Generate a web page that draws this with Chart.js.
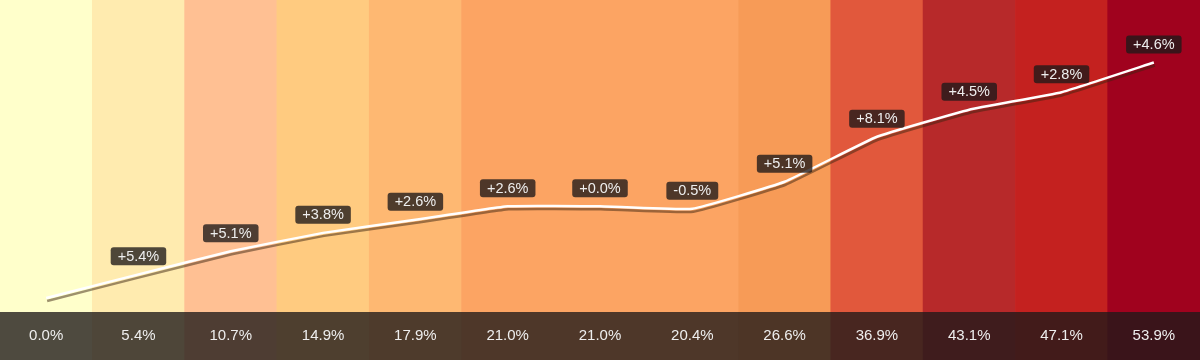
<!DOCTYPE html>
<html>
<head>
<meta charset="utf-8">
<script src="https://cdn.jsdelivr.net/npm/chart.js@4.4.1/dist/chart.umd.min.js"></script>
<style>
  html, body { margin: 0; padding: 0; background: #fff; }
  #wrap { width: 1200px; height: 360px; }
</style>
</head>
<body>
<div id="wrap"><canvas id="c" width="1200" height="360"></canvas></div>
<script>
// Data
const categories = ['P0','P1','P2','P3','P4','P5','P6','P7','P8','P9','P10','P11','P12'];
const cumulative = [0.0, 5.4, 10.7, 14.9, 17.9, 21.0, 21.0, 20.4, 26.6, 36.9, 43.1, 47.1, 53.9];
const changeLabels = [null, 5.4, 5.1, 3.8, 2.6, 2.6, 0.0, -0.5, 5.1, 8.1, 4.5, 2.8, 4.6];
const bandColors = ['#FFFFCB','#FFEBAF','#FFC093','#FFCB80','#FEB872','#FCA463','#FCA463','#FCA463',
                    '#F79B57','#E1583C','#B7292A','#C4211F','#A0021E'];
const yMin = -14.2, yMax = 68.2;

const overlay = 'rgba(30,26,26,0.79)';
const fontFamily = '"Liberation Sans", Arial, sans-serif';
const stripHeight = 48;

function fmtChange(v) {
  return (v >= 0 ? '+' : '-') + Math.abs(v).toFixed(1) + '%';
}

const shadowPlugin = {
  id: 'lineShadow',
  beforeDatasetDraw(chart, args) {
    if (args.meta.type !== 'line') return;
    const ctx = chart.ctx;
    ctx.save();
    ctx.shadowColor = 'rgba(60,35,15,0.5)';
    ctx.shadowOffsetX = 1;
    ctx.shadowOffsetY = 3;
    ctx.shadowBlur = 0;
  },
  afterDatasetDraw(chart, args) {
    if (args.meta.type !== 'line') return;
    chart.ctx.restore();
  }
};

const stripPlugin = {
  id: 'strip',
  beforeDatasetDraw(chart, args) {
    if (args.meta.type !== 'line') return;
    const ctx = chart.ctx;
    const xs = chart.scales.x;
    const area = chart.chartArea;
    ctx.save();
    ctx.fillStyle = overlay;
    ctx.fillRect(area.left, area.bottom - stripHeight, area.right - area.left, stripHeight);
    ctx.fillStyle = '#eeeeee';
    ctx.font = '15px ' + fontFamily;
    ctx.textAlign = 'center';
    ctx.textBaseline = 'middle';
    cumulative.forEach((v, i) => {
      ctx.fillText(v.toFixed(1) + '%', xs.getPixelForValue(i), area.bottom - stripHeight / 2);
    });
    ctx.restore();
  }
};

function roundRect(ctx, x, y, w, h, r) {
  ctx.beginPath();
  ctx.moveTo(x + r, y);
  ctx.lineTo(x + w - r, y);
  ctx.quadraticCurveTo(x + w, y, x + w, y + r);
  ctx.lineTo(x + w, y + h - r);
  ctx.quadraticCurveTo(x + w, y + h, x + w - r, y + h);
  ctx.lineTo(x + r, y + h);
  ctx.quadraticCurveTo(x, y + h, x, y + h - r);
  ctx.lineTo(x, y + r);
  ctx.quadraticCurveTo(x, y, x + r, y);
  ctx.closePath();
}

const labelPlugin = {
  id: 'changeLabels',
  afterDatasetsDraw(chart) {
    const ctx = chart.ctx;
    const meta = chart.getDatasetMeta(1);
    ctx.save();
    ctx.font = '14.5px ' + fontFamily;
    ctx.textAlign = 'center';
    ctx.textBaseline = 'middle';
    meta.data.forEach((pt, i) => {
      const v = changeLabels[i];
      if (v === null || v === undefined) return;
      const txt = fmtChange(v);
      const w = ctx.measureText(txt).width + 14;
      const h = 18;
      const cx = pt.x, cy = pt.y - 18;
      ctx.fillStyle = overlay;
      roundRect(ctx, cx - w / 2, cy - h / 2, w, h, 3);
      ctx.fill();
      ctx.fillStyle = '#eeeeee';
      ctx.fillText(txt, cx, cy + 0.5);
    });
    ctx.restore();
  }
};

new Chart(document.getElementById('c'), {
  type: 'bar',
  data: {
    labels: categories,
    datasets: [
      {
        type: 'bar',
        data: categories.map(() => [yMin, yMax]),
        backgroundColor: bandColors,
        borderWidth: 0,
        barPercentage: 1.0,
        categoryPercentage: 1.0,
        order: 2
      },
      {
        type: 'line',
        data: cumulative,
        borderColor: '#ffffff',
        borderWidth: 2.5,
        pointRadius: 0,
        tension: 0.1,
        fill: false,
        order: 1
      }
    ]
  },
  options: {
    responsive: false,
    animation: false,
    layout: { padding: 0 },
    plugins: { legend: { display: false }, tooltip: { enabled: false } },
    scales: {
      x: { display: false, offset: true, grid: { display: false } },
      y: { display: false, min: yMin, max: yMax, grid: { display: false } }
    }
  },
  plugins: [stripPlugin, shadowPlugin, labelPlugin]
});
</script>
</body>
</html>
